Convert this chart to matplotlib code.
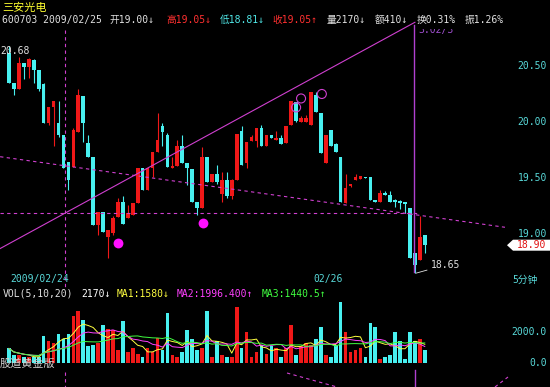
import numpy as np
import pandas as pd
import matplotlib
matplotlib.use("Agg")
import matplotlib.pyplot as plt
from matplotlib.patches import Polygon
from matplotlib.transforms import Bbox, TransformedBbox

plt.rcParams['font.family'] = ['DejaVu Sans Mono', 'Noto Sans CJK SC']

# 5-minute bars, 三安光电 600703
opens = [20.62, 20.35, 20.29, 20.53, 20.49, 20.55, 20.46, 20.34, 19.99, 20.13,
         19.99, 19.88, 19.64, 19.60, 19.91, 20.23, 19.81, 19.69, 19.08, 19.20,
         18.97, 19.01, 19.15, 19.29, 19.14, 19.17, 19.28, 19.59, 19.39, 19.59,
         19.73, 19.96, 19.88, 19.59, 19.61, 19.79, 19.63, 19.58, 19.29, 19.23,
         19.69, 19.46, 19.54, 19.36, 19.48, 19.34, 19.48, 19.92, 19.63, 19.83,
         19.83, 19.95, 19.79, 19.88, 19.84, 19.86, 19.81, 19.97, 20.18, 20.00,
         20.00, 19.97, 20.24, 20.08, 19.63, 19.93, 19.80, 19.69, 19.28, 19.43,
         19.48, 19.49, 19.51, 19.51, 19.30, 19.29, 19.37, 19.35, 19.30, 19.29,
         19.28, 19.23, 18.83, 18.77, 18.99]
highs = [20.68, 20.35, 20.58, 20.53, 20.57, 20.56, 20.46, 20.35, 20.13, 20.19,
         20.19, 19.88, 19.64, 19.95, 20.29, 20.23, 19.88, 19.69, 19.20, 19.20,
         19.04, 19.16, 19.32, 19.34, 19.26, 19.28, 19.59, 19.59, 19.59, 19.73,
         20.08, 19.99, 19.90, 19.69, 19.84, 19.88, 19.63, 19.58, 19.29, 19.78,
         19.69, 19.54, 19.62, 19.55, 19.55, 19.49, 19.89, 19.96, 19.82, 19.88,
         19.95, 19.97, 19.88, 19.88, 19.92, 19.88, 19.96, 20.19, 20.18, 20.05,
         20.06, 20.27, 20.27, 20.08, 19.88, 19.93, 19.81, 19.69, 19.54, 19.44,
         19.54, 19.52, 19.51, 19.51, 19.30, 19.39, 19.38, 19.38, 19.31, 19.30,
         19.28, 19.23, 18.83, 19.16, 18.99]
lows = [20.35, 20.24, 20.29, 20.38, 20.39, 20.35, 20.28, 19.99, 19.97, 19.79,
        19.87, 19.59, 19.39, 19.60, 19.91, 19.82, 19.69, 19.08, 18.99, 19.02,
        18.79, 18.99, 19.15, 19.09, 19.14, 19.17, 19.28, 19.39, 19.39, 19.51,
        19.73, 19.79, 19.60, 19.59, 19.61, 19.63, 19.44, 19.29, 19.17, 19.23,
        19.46, 19.46, 19.45, 19.29, 19.32, 19.31, 19.48, 19.62, 19.59, 19.83,
        19.78, 19.79, 19.79, 19.86, 19.84, 19.80, 19.81, 19.97, 20.00, 20.00,
        20.00, 19.97, 20.09, 19.72, 19.63, 19.79, 19.73, 19.29, 19.28, 19.42,
        19.48, 19.49, 19.50, 19.30, 19.29, 19.29, 19.35, 19.29, 19.24, 19.22,
        19.19, 18.79, 18.65, 18.77, 18.83]
closes = [20.35, 20.29, 20.53, 20.49, 20.56, 20.46, 20.29, 19.99, 20.13, 20.19,
          19.88, 19.59, 19.48, 19.93, 20.24, 19.99, 19.69, 19.08, 19.20, 19.02,
          19.04, 19.14, 19.29, 19.09, 19.19, 19.28, 19.59, 19.39, 19.59, 19.73,
          19.84, 19.91, 19.60, 19.61, 19.79, 19.63, 19.59, 19.29, 19.23, 19.69,
          19.46, 19.54, 19.46, 19.48, 19.34, 19.48, 19.89, 19.62, 19.82, 19.87,
          19.95, 19.79, 19.88, 19.86, 19.86, 19.80, 19.96, 20.19, 20.01, 20.04,
          20.04, 20.27, 20.09, 19.72, 19.88, 19.79, 19.73, 19.29, 19.41, 19.44,
          19.51, 19.52, 19.50, 19.30, 19.29, 19.37, 19.35, 19.29, 19.29, 19.28,
          19.27, 18.79, 18.72, 18.97, 18.90]
volumes = [920, 460, 460, 330, 330, 330, 390, 1710, 1440, 1310,
           1840, 1510, 1840, 3020, 3410, 2820, 1050, 1180, 1310, 2430,
           2230, 2100, 790, 2690, 660, 920, 590, 390, 920, 660,
           1640, 850, 3280, 460, 330, 660, 2160, 1570, 790, 920,
           3410, 390, 1440, 460, 390, 390, 3670, 920, 2030, 390,
           660, 1120, 590, 1050, 920, 390, 920, 2430, 520, 1050,
           1310, 1120, 1570, 2300, 520, 390, 1120, 3940, 2030, 720,
           790, 920, 390, 2560, 2360, 260, 390, 520, 1970, 1380,
           260, 1970, 1380, 1570, 790]

price_ticks = [19.0, 19.5, 20.0, 20.5]
vol_ticks = [0, 2000]
vol_tick_labels = ['0.0', '2000.0']

# user-drawn lines (bar index, price)
trend_up = ([-1.8, 82.0], [18.87, 20.89])
trend_down = ([-1.8, 100.2], [19.69, 19.06])
cross_price = 19.19
cross_idx = 11.3
marker_idx = 81.8
dots = ([22.0, 39.2], [18.92, 19.10])
rings = ([58.0, 59.0, 63.2], [20.13, 20.21, 20.25])

header = [
    (2, "600703 2009/02/25", '#e0e0e0'),
    (110, "开19.00↓", '#e0e0e0'),
    (166, "高19.05↓", '#ff3030'),
    (220, "低18.81↓", '#50e8e8'),
    (272, "收19.05↑", '#ff3030'),
    (327, "量2170↓", '#e0e0e0'),
    (375, "额410↓", '#e0e0e0'),
    (417, "换0.31%", '#e0e0e0'),
    (465, "振1.26%", '#e0e0e0'),
]
vol_header = [
    (3, "VOL(5,10,20)", '#e0e0e0'),
    (81, "2170↓", '#ffffff'),
    (117, "MA1:1580↓", '#ffff40'),
    (177, "MA2:1996.400↑", '#ff40ff'),
    (262, "MA3:1440.5↑", '#40ff40'),
]

RED = '#f01818'
CYAN = '#48f0f0'
LCYAN = '#58d8d8'
MAG = '#d040d0'

W, H = 550, 387
STEP = 4.95
fig = plt.figure(figsize=(5.5, 3.87), dpi=100, facecolor='black')


def fx(px):
    return px / W


def fy(py):
    return 1 - py / H


axp = fig.add_axes([0, fy(290), 1, 290 / H])
axv = fig.add_axes([0, 0, 1, 97 / H])
for ax in (axp, axv):
    ax.axis('off')
    ax.set_xlim(-9 / STEP, (W - 9) / STEP)
axp.set_ylim(18.5, 21.089)
axv.set_ylim(-1607, 4756)

o = np.array(opens)
c = np.array(closes)
x = np.arange(len(o))
colors = np.where(c > o, RED, CYAN)

axp.vlines(x, lows, highs, colors=colors, lw=0.8, zorder=2)
axp.bar(x, np.maximum(np.abs(c - o), 0.012), bottom=np.minimum(o, c),
        width=0.74, color=colors, linewidth=0, zorder=2)

# trend lines
axp.plot(*trend_up, color=MAG, lw=0.8, zorder=3)
axp.plot(*trend_down, color=MAG, lw=0.8, ls=(0, (3, 3)), zorder=3)
axp.plot([-1.8, 83.0], [cross_price, cross_price], color=MAG, lw=0.8,
         ls=(0, (3, 3)), zorder=3)
axp.plot([cross_idx, cross_idx], [20.82, 18.5], color=MAG, lw=0.8,
         ls=(0, (3, 3)), zorder=3)
axp.plot([marker_idx, marker_idx], [20.866, 18.66], color='#b040d0', lw=1.0,
         zorder=3)
axp.scatter(*dots, s=50, color='#ff10ff', zorder=4, linewidths=0)
axp.scatter(*rings, s=42, facecolors='none', edgecolors=MAG, linewidths=0.8,
            zorder=4)

# price labels on the right
ty = axp.get_yaxis_transform()
for p in price_ticks:
    axp.text(fx(547), p, f"{p:.2f}", transform=ty, color=LCYAN, fontsize=7,
             ha='right', va='center')
axp.text(fx(0), max(highs), f"{max(highs):.2f}", transform=ty, color='#e0e0e0',
         fontsize=7, ha='left', va='top')

# last price tag
last = closes[-1]
hh = 5.5 / 112
axp.add_patch(Polygon([(fx(507), last), (fx(513), last + hh), (fx(550), last + hh),
                       (fx(550), last - hh), (fx(513), last - hh)],
                      closed=True, transform=ty, facecolor='white',
                      edgecolor='none', zorder=5))
axp.text(fx(546), last, f"{last:.2f}", transform=ty, color='#e01010', fontsize=7,
         ha='right', va='center', zorder=6)

# lowest price note
ilow = int(np.argmin(lows))
axp.annotate(f"{min(lows):.2f}", xy=(ilow + 0.2, min(lows)),
             xytext=(11, 6), textcoords='offset points', color='#e0e0e0',
             fontsize=7, ha='left', va='center',
             arrowprops=dict(arrowstyle='-', color='#e0e0e0', lw=0.6,
                             shrinkA=1, shrinkB=0))

# volume panel
axv.bar(x, volumes, width=0.74, color=colors, linewidth=0, zorder=2)
vs = pd.Series(volumes, dtype=float)
axv.plot(x, vs.rolling(5, min_periods=1).mean(), color='#ffff40', lw=0.7, zorder=3)
axv.plot(x, vs.rolling(10, min_periods=1).mean(), color='#ff40ff', lw=0.7, zorder=3)
axv.plot(x, vs.rolling(20, min_periods=1).mean(), color='#40ff40', lw=0.7, zorder=3)
tv = axv.get_yaxis_transform()
for v, lab in zip(vol_ticks, vol_tick_labels):
    axv.text(fx(547), v, lab, transform=tv, color=LCYAN, fontsize=7,
             ha='right', va='center')

# texts
fig.text(fx(2), fy(8), "三安光电", color='#ffff30', fontsize=8, ha='left',
         va='center')
for px, s, col in header:
    fig.text(fx(px), fy(20), s, color=col, fontsize=7, ha='left', va='center')
for px, s, col in vol_header:
    fig.text(fx(px), fy(294), s, color=col, fontsize=7, ha='left', va='center')
fig.text(fx(10), fy(279), "2009/02/24", color=LCYAN, fontsize=7, ha='left',
         va='center')
fig.text(fx(313), fy(279), "02/26", color=LCYAN, fontsize=7, ha='left',
         va='center')
fig.text(fx(512), fy(280), "5分钟", color=LCYAN, fontsize=7, ha='left',
         va='center')
fig.text(fx(0), fy(364), "股道黄金版", color='#d0d0d0', fontsize=8, ha='left',
         va='center')

# partly hidden date text next to the marker line
clip = TransformedBbox(Bbox([[fx(410), fy(40)], [fx(470), fy(29)]]),
                       fig.transFigure)
t = fig.text(fx(418), fy(30), "3.02/3", color='#a050d0', fontsize=7, ha='left',
             va='center', clip_on=True)
t.set_clip_box(clip)

# pieces of the lines below the volume panel
fig.add_artist(plt.Line2D([fx(287), fx(337)], [fy(373), fy(387)], color=MAG,
                          lw=0.8, ls=(0, (3, 3))))
fig.add_artist(plt.Line2D([fx(495), fx(508)], [fy(387), fy(377)], color=MAG,
                          lw=0.8, ls=(0, (3, 3))))
fig.add_artist(plt.Line2D([fx(65), fx(65)], [fy(372), fy(387)], color=MAG,
                          lw=0.8, ls=(0, (3, 3))))
fig.add_artist(plt.Line2D([fx(415), fx(415)], [fy(370), fy(387)], color='#b040d0',
                          lw=1.0))

fig.savefig('out.png', dpi=100, facecolor='black')
